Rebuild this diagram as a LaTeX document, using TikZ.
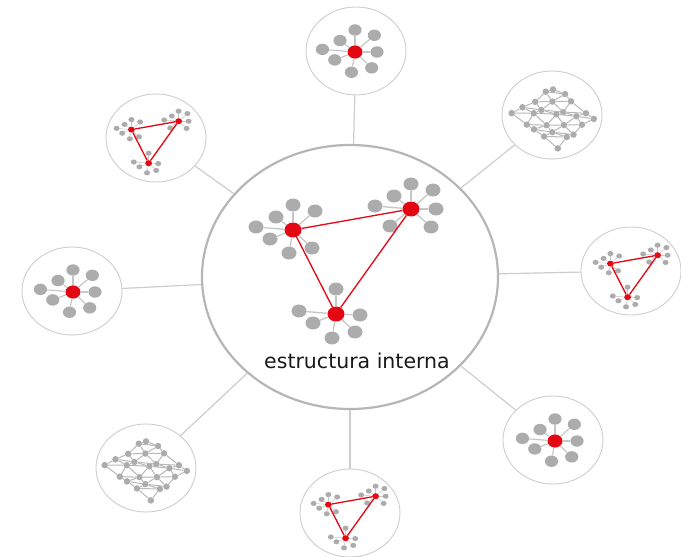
\documentclass[tikz,border=0pt]{standalone}
\usepackage{fontspec}
\setmainfont{DejaVu Sans}
\usetikzlibrary{shapes.geometric}

\definecolor{gris}{RGB}{172,172,172}
\definecolor{grisclaro}{RGB}{198,198,198}
\definecolor{bordeG}{RGB}{182,182,182}
\definecolor{bordeS}{RGB}{205,205,205}
\definecolor{rojo}{RGB}{227,6,19}

\tikzset{
  grande/.style={ellipse,draw=bordeG,line width=2.2pt,minimum width=296pt,minimum height=264pt,inner sep=0pt},
  satelite/.style={ellipse,draw=bordeS,line width=0.9pt,minimum width=100pt,minimum height=88pt,inner sep=0pt},
  enlace/.style={draw=bordeS,line width=1.2pt},
  hoja/.style={ellipse,fill=gris,minimum width=15pt,minimum height=13pt,inner sep=0pt},
  eje/.style={ellipse,fill=rojo,minimum width=17pt,minimum height=15pt,inner sep=0pt},
  radio/.style={draw=grisclaro,line width=#1},
  lazo/.style={draw=rojo,line width=1.3pt},
  nudo/.style={circle,fill=gris,minimum size=6.5pt,inner sep=0pt},
  hilo/.style={draw=gris!85,line width=1pt},
  rotulo/.style={font=\fontsize{20.5}{24}\selectfont,text=black!90,inner sep=0pt}
}

% hojas de cada racimo (en px, escala 1)
\newcommand{\estrella}{0/-25,-17/-13,22/-19,-37/-3,25/0,-23/9,19/18,-4/23}
\newcommand{\hojasA}{0/-25,-17/-13,22/-19,-37/-3,-23/9,-4/23,19/18}
\newcommand{\hojasB}{0/-25,-17/-13,22/-19,-36/-3,25/0,-21/17,20/18}
\newcommand{\hojasC}{0/-25,-37/-3,-23/9,-4/24,24/1,19/18}

% racimo: nombre, posicion, escala, lista de hojas
\newcommand{\racimo}[4]{%
  \begin{scope}[shift={#2},scale=#3,transform shape]
    \node[eje] (#1) at (0,0) {};
    \foreach \hx/\hy [count=\k] in #4 {
      \node[hoja] (#1-\k) at (\hx,\hy) {};
      \draw[radio={#3*1.3pt}] (#1) -- (#1-\k);
    }
  \end{scope}}

% triangulo de racimos: nombre, centro, escala
\newcommand{\triangulo}[3]{%
  \begin{scope}[shift={#2}]
    \racimo{#1a}{(-54*#3,-21*#3)}{#3}{\hojasA}
    \racimo{#1b}{(64*#3,-42*#3)}{#3}{\hojasB}
    \racimo{#1c}{(-11*#3,63*#3)}{#3}{\hojasC}
  \end{scope}
  \draw[lazo] (#1a) -- (#1b) (#1b) -- (#1c) (#1c) -- (#1a);}

% malla: nombre, centro
\newcommand{\malla}[2]{%
  \begin{scope}[shift={#2}]
    \foreach \i in {0,...,4}{
      \foreach \j in {0,...,4}{
        \pgfmathsetmacro{\mx}{-2+10.3*\i-9.7*\j+2.6*sin(137*\i+71*\j)}
        \pgfmathsetmacro{\my}{-29+8*\i+6.8*\j+2.4*cos(113*\i+151*\j)}
        \node[nudo] (#1-\i-\j) at (\mx,\my) {};
      }}
    \foreach \i [evaluate=\i as \ii using int(\i+1)] in {0,...,3}{
      \foreach \j [evaluate=\j as \jj using int(\j+1)] in {0,...,3}{
        \draw[hilo] (#1-\i-\j) -- (#1-\ii-\j);
        \draw[hilo] (#1-\i-\j) -- (#1-\i-\jj);
        \draw[hilo] (#1-\ii-\j) -- (#1-\i-\jj);
      }}
    \foreach \k [evaluate=\k as \kk using int(\k+1)] in {0,...,3}{
      \draw[hilo] (#1-\k-4) -- (#1-\kk-4);
      \draw[hilo] (#1-4-\k) -- (#1-4-\kk);
    }
  \end{scope}}

\begin{document}
\begin{tikzpicture}[x=1pt,y=-1pt]
  \useasboundingbox (0,0) rectangle (681,557);
  % elipse central y satelites
  \node[grande] (interna) at (350,277) {};
  \node[satelite] (sat-n) at (356,51) {};
  \node[satelite] (sat-ne) at (552,115) {};
  \node[satelite] (sat-e) at (631,271) {};
  \node[satelite] (sat-se) at (553,440) {};
  \node[satelite] (sat-s) at (350,513) {};
  \node[satelite] (sat-sw) at (146,468) {};
  \node[satelite] (sat-w) at (72,291) {};
  \node[satelite] (sat-nw) at (156,138) {};
  \foreach \s in {n,ne,e,se,s,sw,w,nw}
    \draw[enlace] (interna) -- (sat-\s);
  % estructura interna
  \triangulo{t}{(347,251)}{1}
  \node[rotulo,anchor=base] (texto) at (357,368) {estructura interna};
  % contenidos de los satelites
  \racimo{rn}{(355,52)}{0.88}{\estrella}
  \racimo{rw}{(73,292)}{0.88}{\estrella}
  \racimo{rse}{(555,441)}{0.88}{\estrella}
  \triangulo{tnw}{(153,138)}{0.4}
  \triangulo{te}{(632,272)}{0.4}
  \triangulo{ts}{(350,513)}{0.4}
  \malla{mne}{(555,116)}
  \malla{msw}{(148,468)}
\end{tikzpicture}
\end{document}
